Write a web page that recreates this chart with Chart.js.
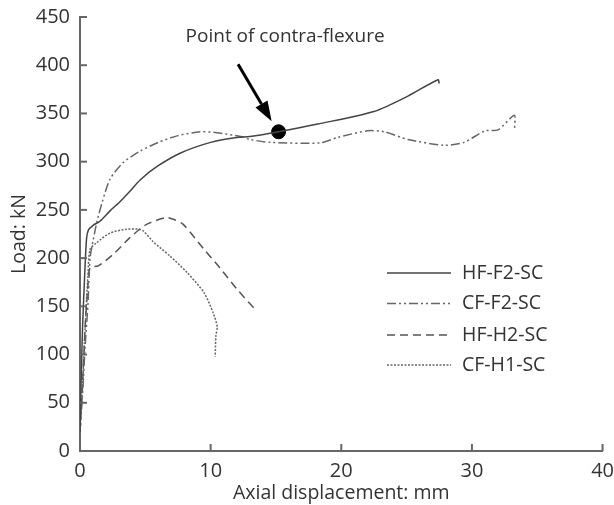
<!DOCTYPE html>
<html>
<head>
<meta charset="utf-8">
<script src="https://cdn.jsdelivr.net/npm/chart.js@4.4.0/dist/chart.umd.min.js"></script>
<style>
  html, body { margin: 0; padding: 0; background: #fff; }
  #wrap { width: 614px; height: 505px; }
</style>
</head>
<body>
<div id="wrap"><canvas id="chart" width="614" height="505"></canvas></div>
<script>
// Datos (desplazamiento axial mm, carga kN)
const seriesNames = ['HF-F2-SC', 'CF-F2-SC', 'HF-H2-SC', 'CF-H1-SC'];

const hfF2x = [0, 0.1, 0.2, 0.35, 0.5, 0.64, 1.0, 1.5, 2.3, 3.1, 3.8, 4.6, 5.9, 7.7, 10.0, 12.0, 13.0, 15.2, 18.2, 22.5, 25.1, 27.4, 27.5];
const hfF2y = [20, 80, 130, 180, 220, 229, 234, 238, 249, 259, 269, 281, 295, 309, 320, 325, 326, 331, 339, 352, 368, 385, 381];

const cfF2x = [0, 0.2, 0.4, 0.6, 0.77, 1.0, 1.3, 1.7, 2.3, 3.3, 4.6, 6.0, 7.5, 9.2, 10.5, 12.3, 13.0, 14.6, 18.4, 19.7, 22.0, 23.3, 25.1, 27.9, 29.4, 31.0, 32.0, 33.25, 33.25];
const cfF2y = [20, 60, 110, 150, 200, 218, 238, 258, 282, 299, 311, 320, 327, 331, 330, 326, 323, 320, 319.5, 325, 332, 331, 323, 317, 320, 332, 333, 348, 332];

const hfH2x = [0, 0.2, 0.4, 0.6, 0.77, 1.4, 2.55, 3.8, 5.1, 6.6, 7.2, 7.9, 9.5, 10.7, 12.0, 13.4];
const hfH2y = [20, 70, 130, 170, 190, 192, 204, 221, 235, 242, 240, 235, 209, 190, 168, 147];

const cfH1x = [0, 0.2, 0.4, 0.6, 0.77, 1.28, 2.3, 3.57, 4.46, 4.86, 5.6, 6.9, 8.2, 9.5, 10.2, 10.5, 10.4, 10.35];
const cfH1y = [20, 70, 130, 180, 209, 216, 226, 230, 230, 228, 217, 202, 185, 164, 143, 129, 119, 98];

// Punto de contraflexión
const flexPoint = [15.2, 331];
const flexLabel = 'Point of contra-flexure';

const xTicks = [0, 10, 20, 30, 40];
const yTicks = [0, 50, 100, 150, 200, 250, 300, 350, 400, 450];

const toPoints = (xs, ys) => xs.map((x, i) => ({ x: x, y: ys[i] }));

const FONT = '"Open Sans", "DejaVu Sans", sans-serif';
const TEXT = '#333';
const AXIS = '#666';

const styles = [
    { color: '#444', dash: [] },
    { color: '#666', dash: [9, 3, 2, 3, 2, 3] },
    { color: '#555', dash: [8, 5] },
    { color: '#666', dash: [2, 1.5] }
];

const curves = [
    toPoints(hfF2x, hfF2y),
    toPoints(cfF2x, cfF2y),
    toPoints(hfH2x, hfH2y),
    toPoints(cfH1x, cfH1y)
];

const datasets = curves.map((pts, i) => ({
    label: seriesNames[i],
    data: pts,
    showLine: true,
    borderColor: styles[i].color,
    borderDash: styles[i].dash,
    borderWidth: 1.5,
    pointRadius: 0,
    tension: 0.25,
    fill: false
}));

datasets.push({
    label: 'flex',
    data: [{ x: flexPoint[0], y: flexPoint[1] }],
    showLine: false,
    pointRadius: 7,
    pointBackgroundColor: '#000',
    pointBorderColor: '#000'
});

// Ticks hacia dentro, leyenda, flecha y texto
const extras = {
    id: 'extras',
    afterDraw(chart) {
        const c = chart.ctx;
        const xs = chart.scales.x;
        const ys = chart.scales.y;
        const area = chart.chartArea;
        c.save();

        // ticks hacia dentro
        c.strokeStyle = AXIS;
        c.lineWidth = 2;
        yTicks.forEach(v => {
            const py = ys.getPixelForValue(v);
            c.beginPath();
            c.moveTo(area.left, py);
            c.lineTo(area.left + 7, py);
            c.stroke();
        });
        xTicks.forEach(v => {
            const px = xs.getPixelForValue(v);
            c.beginPath();
            c.moveTo(px, area.bottom);
            c.lineTo(px, area.bottom - 7);
            c.stroke();
        });

        // flecha
        const x0 = xs.getPixelForValue(12.1), y0 = ys.getPixelForValue(401);
        const x1 = xs.getPixelForValue(14.67), y1 = ys.getPixelForValue(342);
        const ang = Math.atan2(y1 - y0, x1 - x0);
        const headLen = 20, headW = 7;
        const bx = x1 - headLen * Math.cos(ang), by = y1 - headLen * Math.sin(ang);
        c.strokeStyle = '#000';
        c.lineWidth = 3;
        c.beginPath();
        c.moveTo(x0, y0);
        c.lineTo(bx, by);
        c.stroke();
        c.fillStyle = '#000';
        c.beginPath();
        c.moveTo(x1, y1);
        c.lineTo(bx + headW * Math.sin(ang), by - headW * Math.cos(ang));
        c.lineTo(bx - headW * Math.sin(ang), by + headW * Math.cos(ang));
        c.closePath();
        c.fill();

        // texto
        c.font = '19px ' + FONT;
        c.fillStyle = TEXT;
        c.textAlign = 'center';
        c.textBaseline = 'middle';
        c.fillText(flexLabel, xs.getPixelForValue(15.7), ys.getPixelForValue(430));

        // leyenda
        const lx0 = area.left + 307, lx1 = area.left + 371;
        const rows = [273, 303.5, 335, 365];
        c.textAlign = 'left';
        c.font = '19.5px ' + FONT;
        seriesNames.forEach((name, i) => {
            const ry = rows[i];
            c.strokeStyle = styles[i].color;
            c.lineWidth = 1.5;
            c.setLineDash(styles[i].dash);
            c.beginPath();
            c.moveTo(lx0, ry);
            c.lineTo(lx1, ry);
            c.stroke();
            c.setLineDash([]);
            c.fillStyle = TEXT;
            c.fillText(name, lx1 + 11, ry);
        });
        c.restore();
    }
};

const ctx = document.getElementById('chart').getContext('2d');
new Chart(ctx, {
    type: 'scatter',
    data: { datasets: datasets },
    options: {
        responsive: false,
        animation: false,
        layout: { padding: { left: 0, right: 11, top: 17, bottom: 0 } },
        plugins: {
            legend: { display: false },
            tooltip: { enabled: false }
        },
        scales: {
            x: {
                type: 'linear',
                min: 0,
                max: 40,
                afterBuildTicks: s => { s.ticks = xTicks.map(v => ({ value: v })); },
                afterFit: s => { s.height = 54; },
                grid: { display: false },
                border: { display: true, color: AXIS, width: 2 },
                ticks: { color: TEXT, font: { family: FONT, size: 20 }, padding: 0 },
                title: {
                    display: true,
                    text: 'Axial displacement: mm',
                    color: TEXT,
                    font: { family: FONT, size: 19.5 },
                    padding: { top: 0, bottom: 0 }
                }
            },
            y: {
                min: 0,
                max: 450,
                afterBuildTicks: s => { s.ticks = yTicks.map(v => ({ value: v })); },
                afterFit: s => { s.width = 80; },
                grid: { display: false },
                border: { display: true, color: AXIS, width: 2 },
                ticks: { color: TEXT, font: { family: FONT, size: 20 }, padding: 2 },
                title: {
                    display: true,
                    text: 'Load: kN',
                    color: TEXT,
                    font: { family: FONT, size: 19.5 },
                    padding: { top: 8, bottom: 0 }
                }
            }
        }
    },
    plugins: [extras]
});
</script>
</body>
</html>
